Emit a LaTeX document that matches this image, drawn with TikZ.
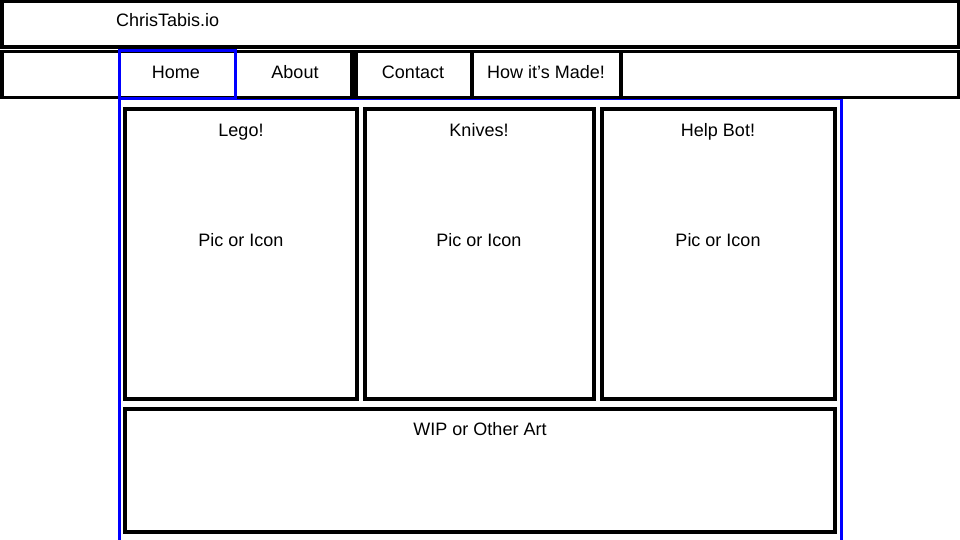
\documentclass[tikz,border=0pt]{standalone}
\usepackage{fontspec}
\setmainfont{Liberation Sans}
\begin{document}
\begin{tikzpicture}[x=1pt,y=-1pt,
  lbl/.style={font=\fontsize{18}{20}\selectfont, inner sep=0pt, anchor=base},
  bar/.style={draw=black, line width=3.5pt},
  card/.style={draw=black, line width=4pt},
  sel/.style={draw=blue, line width=3pt}]
\useasboundingbox (0,0) rectangle (960,540);
% blue page container
\draw[sel] (119.5,99) rectangle (841.5,541);
% header
\draw[bar] (1.75,1.75) rectangle (958.25,47);
\node[lbl, anchor=base west] (title) at (116,26.5) {ChrisTabis.io};
% nav bar
\draw[bar] (1.75,51.5) rectangle (958.25,97.5);
\draw[bar] (352,51) -- (352,98);
\draw[bar] (356,51) -- (356,98);
\draw[bar] (472,51) -- (472,98);
\draw[bar] (621,51) -- (621,98);
\draw[sel] (119.5,51) rectangle (235.5,98.5);
\node[lbl] (home) at (176,78.5) {Home};
\node[lbl] (about) at (295,78.5) {About};
\node[lbl] (contact) at (413,78.5) {Contact};
\node[lbl] (howto) at (546,78.5) {How it’s Made!};
% cards
\draw[card] (125,109) rectangle (357,399);
\draw[card] (365,109) rectangle (594,399);
\draw[card] (602,109) rectangle (835,399);
\draw[card] (125,409) rectangle (835,532);
\node[lbl] (lego) at (241,136.5) {Lego!};
\node[lbl] (legopic) at (241,246.5) {Pic or Icon};
\node[lbl] (knives) at (479,136.5) {Knives!};
\node[lbl] (knivespic) at (479,246.5) {Pic or Icon};
\node[lbl] (bot) at (718,136.5) {Help Bot!};
\node[lbl] (botpic) at (718,246.5) {Pic or Icon};
\node[lbl] (wip) at (480,435.5) {WIP or Other Art};
\end{tikzpicture}
\end{document}
